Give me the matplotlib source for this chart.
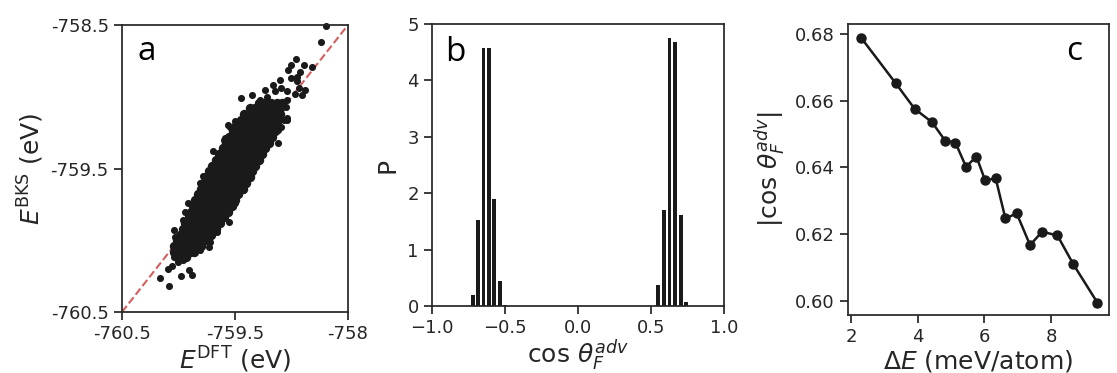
import numpy as np
import matplotlib.pyplot as plt

# ---- panel a: BKS vs DFT energies (eV) ----
# dense core of the cloud, one row per E_BKS value
core_rows = [
    (-759.04, [-759.29, -759.24, -759.18, -759.13, -759.08]),
    (-759.08, [-759.37, -759.32, -759.26, -759.21, -759.15, -759.10]),
    (-759.12, [-759.42, -759.36, -759.31, -759.25, -759.20, -759.15, -759.10]),
    (-759.16, [-759.45, -759.40, -759.34, -759.29, -759.23, -759.18, -759.12]),
    (-759.20, [-759.49, -759.44, -759.38, -759.33, -759.27, -759.22, -759.17, -759.13]),
    (-759.24, [-759.52, -759.46, -759.41, -759.35, -759.30, -759.24, -759.19, -759.15]),
    (-759.28, [-759.55, -759.50, -759.44, -759.39, -759.33, -759.28, -759.22, -759.17]),
    (-759.32, [-759.58, -759.53, -759.47, -759.42, -759.36, -759.31, -759.25, -759.20]),
    (-759.36, [-759.61, -759.56, -759.50, -759.45, -759.39, -759.34, -759.28, -759.23]),
    (-759.40, [-759.64, -759.59, -759.53, -759.48, -759.42, -759.37, -759.31, -759.26]),
    (-759.44, [-759.67, -759.62, -759.56, -759.51, -759.45, -759.40, -759.34, -759.29]),
    (-759.48, [-759.70, -759.65, -759.59, -759.54, -759.48, -759.43, -759.37, -759.32]),
    (-759.52, [-759.73, -759.68, -759.62, -759.57, -759.51, -759.46, -759.40, -759.35]),
    (-759.56, [-759.76, -759.71, -759.65, -759.60, -759.54, -759.49, -759.43, -759.37]),
    (-759.60, [-759.78, -759.73, -759.67, -759.62, -759.56, -759.51, -759.45, -759.40]),
    (-759.64, [-759.80, -759.75, -759.69, -759.64, -759.58, -759.53, -759.48, -759.43]),
    (-759.68, [-759.83, -759.78, -759.72, -759.67, -759.61, -759.56, -759.51, -759.47]),
    (-759.72, [-759.85, -759.80, -759.74, -759.69, -759.64, -759.59, -759.54, -759.50]),
    (-759.76, [-759.87, -759.82, -759.76, -759.71, -759.66, -759.61, -759.57, -759.53]),
    (-759.80, [-759.89, -759.84, -759.78, -759.73, -759.69, -759.64, -759.60, -759.56]),
    (-759.84, [-759.91, -759.86, -759.81, -759.76, -759.72, -759.67, -759.63, -759.60]),
    (-759.88, [-759.94, -759.89, -759.84, -759.79, -759.75, -759.70, -759.66, -759.63]),
    (-759.92, [-759.96, -759.91, -759.86, -759.82, -759.77, -759.72, -759.67]),
    (-759.96, [-759.99, -759.94, -759.89, -759.85, -759.80, -759.75, -759.71]),
    (-760.00, [-760.01, -759.96, -759.91, -759.86, -759.81, -759.76]),
    (-760.04, [-760.04, -759.99, -759.94, -759.89, -759.84, -759.80]),
    (-760.08, [-760.04, -759.99, -759.94, -759.90, -759.86]),
    (-760.12, [-760.01, -759.97, -759.93]),
]

# scattered points outside the core (E_DFT, E_BKS)
outlier_dft = [-760.16, -760.08, -759.98, -759.88, -759.91, -760.09, -760.06, -759.96,
               -760.00, -760.04, -760.04, -760.03, -759.96, -759.94, -759.92, -759.81,
               -759.78, -759.55, -759.66, -759.72, -759.73, -759.50, -759.43, -759.41,
               -759.81, -759.69, -759.60,
               -758.69, -758.74, -758.96, -759.00, -758.89, -758.82, -759.03, -758.92,
               -758.95, -759.00, -759.10, -759.16, -759.09, -758.95, -758.93, -758.88,
               -758.91, -759.23, -759.15, -759.04, -758.97, -759.45, -759.35, -759.28,
               -759.22, -759.04, -759.12, -759.05, -759.07, -759.04, -759.09, -759.12,
               -759.12, -759.54, -759.56, -759.50, -759.59, -759.37, -759.31, -759.04]
outlier_bks = [-760.26, -760.32, -760.25, -760.24, -760.21, -760.20, -760.18, -760.14,
               -760.15, -760.12, -759.93, -759.98, -759.86, -759.80, -759.74, -759.60,
               -759.55, -759.87, -759.94, -760.01, -760.05, -759.74, -759.65, -759.60,
               -760.07, -759.38, -759.30,
               -758.51, -758.62, -758.74, -758.78, -758.78, -758.79, -758.81, -758.83,
               -758.86, -758.87, -758.88, -758.92, -758.94, -758.89, -758.94, -758.95,
               -758.99, -758.95, -758.96, -758.96, -758.98, -759.01, -758.99, -759.02,
               -759.00, -759.02, -759.04, -759.07, -759.16, -759.16, -759.21, -759.23,
               -759.32, -759.21, -759.20, -759.17, -759.29, -759.10, -759.08, -759.15]

# ---- panel b: histogram of cos theta ----
hist_centers = [-0.722, -0.685, -0.648, -0.611, -0.573, -0.535, -0.498,
                0.550, 0.589, 0.627, 0.664, 0.703, 0.740]
hist_p = [0.19, 1.53, 4.57, 4.57, 1.90, 0.44, 0.02,
          0.38, 1.70, 4.75, 4.69, 1.62, 0.07]

# ---- panel c: |cos theta| vs Delta E ----
delta_e = [2.30, 3.34, 3.91, 4.43, 4.82, 5.13, 5.45, 5.76, 6.02, 6.34,
           6.63, 6.97, 7.37, 7.73, 8.19, 8.67, 9.39]
abs_cos = [0.679, 0.6653, 0.6576, 0.6536, 0.6481, 0.6475, 0.6402, 0.6433, 0.6362, 0.6367,
           0.6247, 0.6262, 0.6167, 0.6207, 0.6196, 0.6109, 0.5994]

dark = '#262626'
ink = '#1a1a1a'
plt.rcParams.update({
    'font.family': 'DejaVu Sans',
    'axes.edgecolor': dark,
    'axes.linewidth': 1.25,
    'xtick.color': dark,
    'ytick.color': dark,
    'xtick.labelsize': 13,
    'ytick.labelsize': 13,
    'xtick.major.size': 6,
    'ytick.major.size': 6,
    'xtick.major.width': 1.25,
    'ytick.major.width': 1.25,
    'axes.labelsize': 18,
    'axes.labelcolor': dark,
})

fig = plt.figure(figsize=(11.17, 3.73), dpi=100)
ax_a = fig.add_axes([0.1092, 0.1635, 0.2023, 0.7694])
ax_b = fig.add_axes([0.3868, 0.1796, 0.2614, 0.7560])
ax_c = fig.add_axes([0.7592, 0.1555, 0.2337, 0.7802])

# panel a
core_x = [x for y, xs in core_rows for x in xs]
core_y = [y for y, xs in core_rows for x in xs]
ax_a.plot([-760.5, -758.5], [-760.5, -758.5], ls='--', color='#d65f5f', lw=1.5, zorder=1)
ax_a.scatter(core_x, core_y, s=46, color=ink, linewidths=0, zorder=2)
ax_a.scatter(outlier_dft, outlier_bks, s=26, color=ink, linewidths=0, zorder=2,
             clip_on=False)
ax_a.set_xlim(-760.5, -758.5)
ax_a.set_ylim(-760.5, -758.5)
ax_a.set_xticks([-760.5, -759.5, -758.5])
ax_a.set_xticklabels(['-760.5', '-759.5', '-758'])
ax_a.set_yticks([-760.5, -759.5, -758.5])
ax_a.set_yticklabels(['-760.5', '-759.5', '-758.5'])
ax_a.set_xlabel(r'$E^{\rm DFT}$ (eV)', labelpad=1)
ax_a.set_ylabel(r'$E^{\rm BKS}$ (eV)', labelpad=3)
ax_a.text(0.07, 0.878, 'a', transform=ax_a.transAxes, fontsize=24,
          family='Open Sans', color='black')

# panel b
ax_b.bar(hist_centers, hist_p, width=0.026, color=ink, zorder=2)
ax_b.set_xlim(-1, 1)
ax_b.set_ylim(0, 5)
ax_b.set_xticks([-1.0, -0.5, 0.0, 0.5, 1.0])
ax_b.set_yticks([0, 1, 2, 3, 4, 5])
ax_b.set_xlabel(r'$\cos\,\theta_F^{adv}$', labelpad=0)
ax_b.set_ylabel('P', labelpad=6)
ax_b.text(0.045, 0.869, 'b', transform=ax_b.transAxes, fontsize=24,
          family='Open Sans', color='black')

# panel c
ax_c.plot(delta_e, abs_cos, '-o', color=ink, lw=1.8, ms=6.5)
ax_c.set_xlim(1.91, 9.74)
ax_c.set_ylim(0.5957, 0.6831)
ax_c.set_xticks([2, 4, 6, 8])
ax_c.set_yticks([0.60, 0.62, 0.64, 0.66, 0.68])
ax_c.set_xlabel(r'$\Delta E$ (meV/atom)', labelpad=1)
ax_c.set_ylabel(r'$|\cos\,\theta_F^{adv}|$', labelpad=5)
ax_c.text(0.835, 0.876, 'c', transform=ax_c.transAxes, fontsize=24,
          family='Open Sans', color='black')

fig.savefig('out.png', dpi=100)
